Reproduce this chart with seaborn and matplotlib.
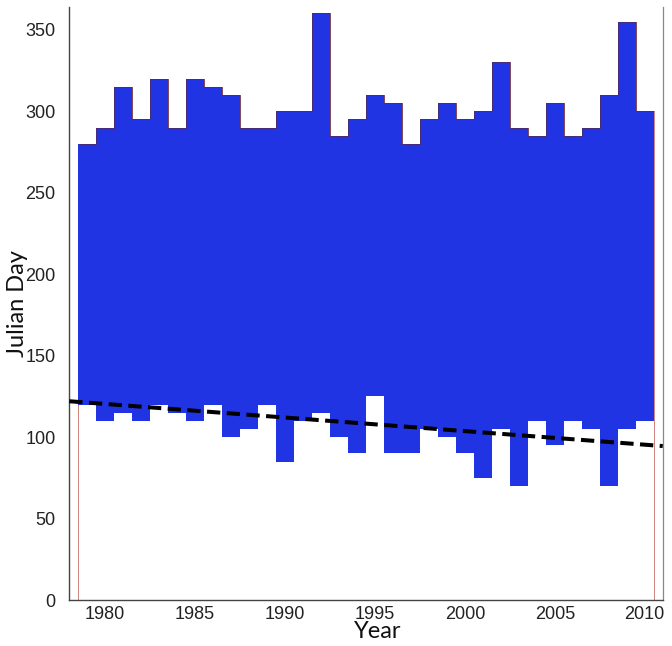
import numpy as np
import pandas as pd
import matplotlib
matplotlib.use("Agg")
import matplotlib.pyplot as plt
import seaborn as sns

years = list(range(1979, 2011))
upper_day = [280, 290, 315, 295, 320, 290, 320, 315, 310, 290, 290, 300, 300, 360,
             285, 295, 310, 305, 280, 295, 305, 295, 300, 330, 290, 285, 305, 285,
             290, 310, 355, 300]
lower_day = [120, 110, 115, 110, 120, 115, 110, 120, 100, 105, 120, 85, 110, 115,
             100, 90, 125, 90, 90, 105, 100, 90, 75, 105, 70, 110, 95, 110,
             105, 70, 105, 110]
trend_year = [1978, 2011]
trend_day = [122, 94.5]
x_ticks = [1980, 1985, 1990, 1995, 2000, 2005, 2010]
y_ticks = [0, 50, 100, 150, 200, 250, 300, 350]

df = pd.DataFrame({"year": years, "upper": upper_day, "lower": lower_day})
trend = pd.DataFrame({"year": trend_year, "day": trend_day})

sns.set_theme(style="white")
plt.rcParams["font.family"] = ["Liberation Sans", "DejaVu Sans"]

fig = plt.figure(figsize=(6.72, 6.46), dpi=100)
ax = fig.add_axes([0.1031, 0.0712, 0.8831, 0.918])

edges = np.append(df["year"].to_numpy() - 0.5, df["year"].to_numpy()[-1] + 0.5)

blue = "#2134e3"
ax.stairs(df["upper"], edges, baseline=0, fill=False, color="#c8706a",
          linewidth=0.6, zorder=2)
ax.stairs(df["upper"], edges, baseline=df["lower"], fill=True, color=blue,
          linewidth=0, zorder=3)
ax.stairs(df["upper"], edges, baseline=None, fill=False, color="#5a2a40",
          linewidth=0.45, zorder=3.5)

sns.lineplot(data=trend, x="year", y="day", ax=ax, color="black",
             linewidth=2.9, dashes=False, zorder=4)
ax.lines[-1].set_dashes((3.3, 1.6))

ax.set_xlim(1978, 2011)
ax.set_ylim(0, 364)
ax.set_xticks(x_ticks)
ax.set_yticks(y_ticks)
ax.tick_params(axis="both", length=0, labelsize=13, colors="#222222")
ax.tick_params(axis="x", pad=4)
ax.tick_params(axis="y", pad=10)

for s in ["left", "bottom"]:
    ax.spines[s].set_color("#444444")
    ax.spines[s].set_linewidth(1.0)
ax.spines["right"].set_color("#888888")
ax.spines["right"].set_linewidth(0.9)
ax.spines["top"].set_visible(False)

ax.set_xlabel("Year", fontsize=17, family=["Lato", "DejaVu Sans"], color="#111111")
ax.set_ylabel("Julian Day", fontsize=17, family=["Lato", "DejaVu Sans"], color="#111111")
ax.xaxis.set_label_coords(0.52, -0.036)
ax.yaxis.set_label_coords(-0.07, 0.5)

fig.savefig("out.png", dpi=100)
